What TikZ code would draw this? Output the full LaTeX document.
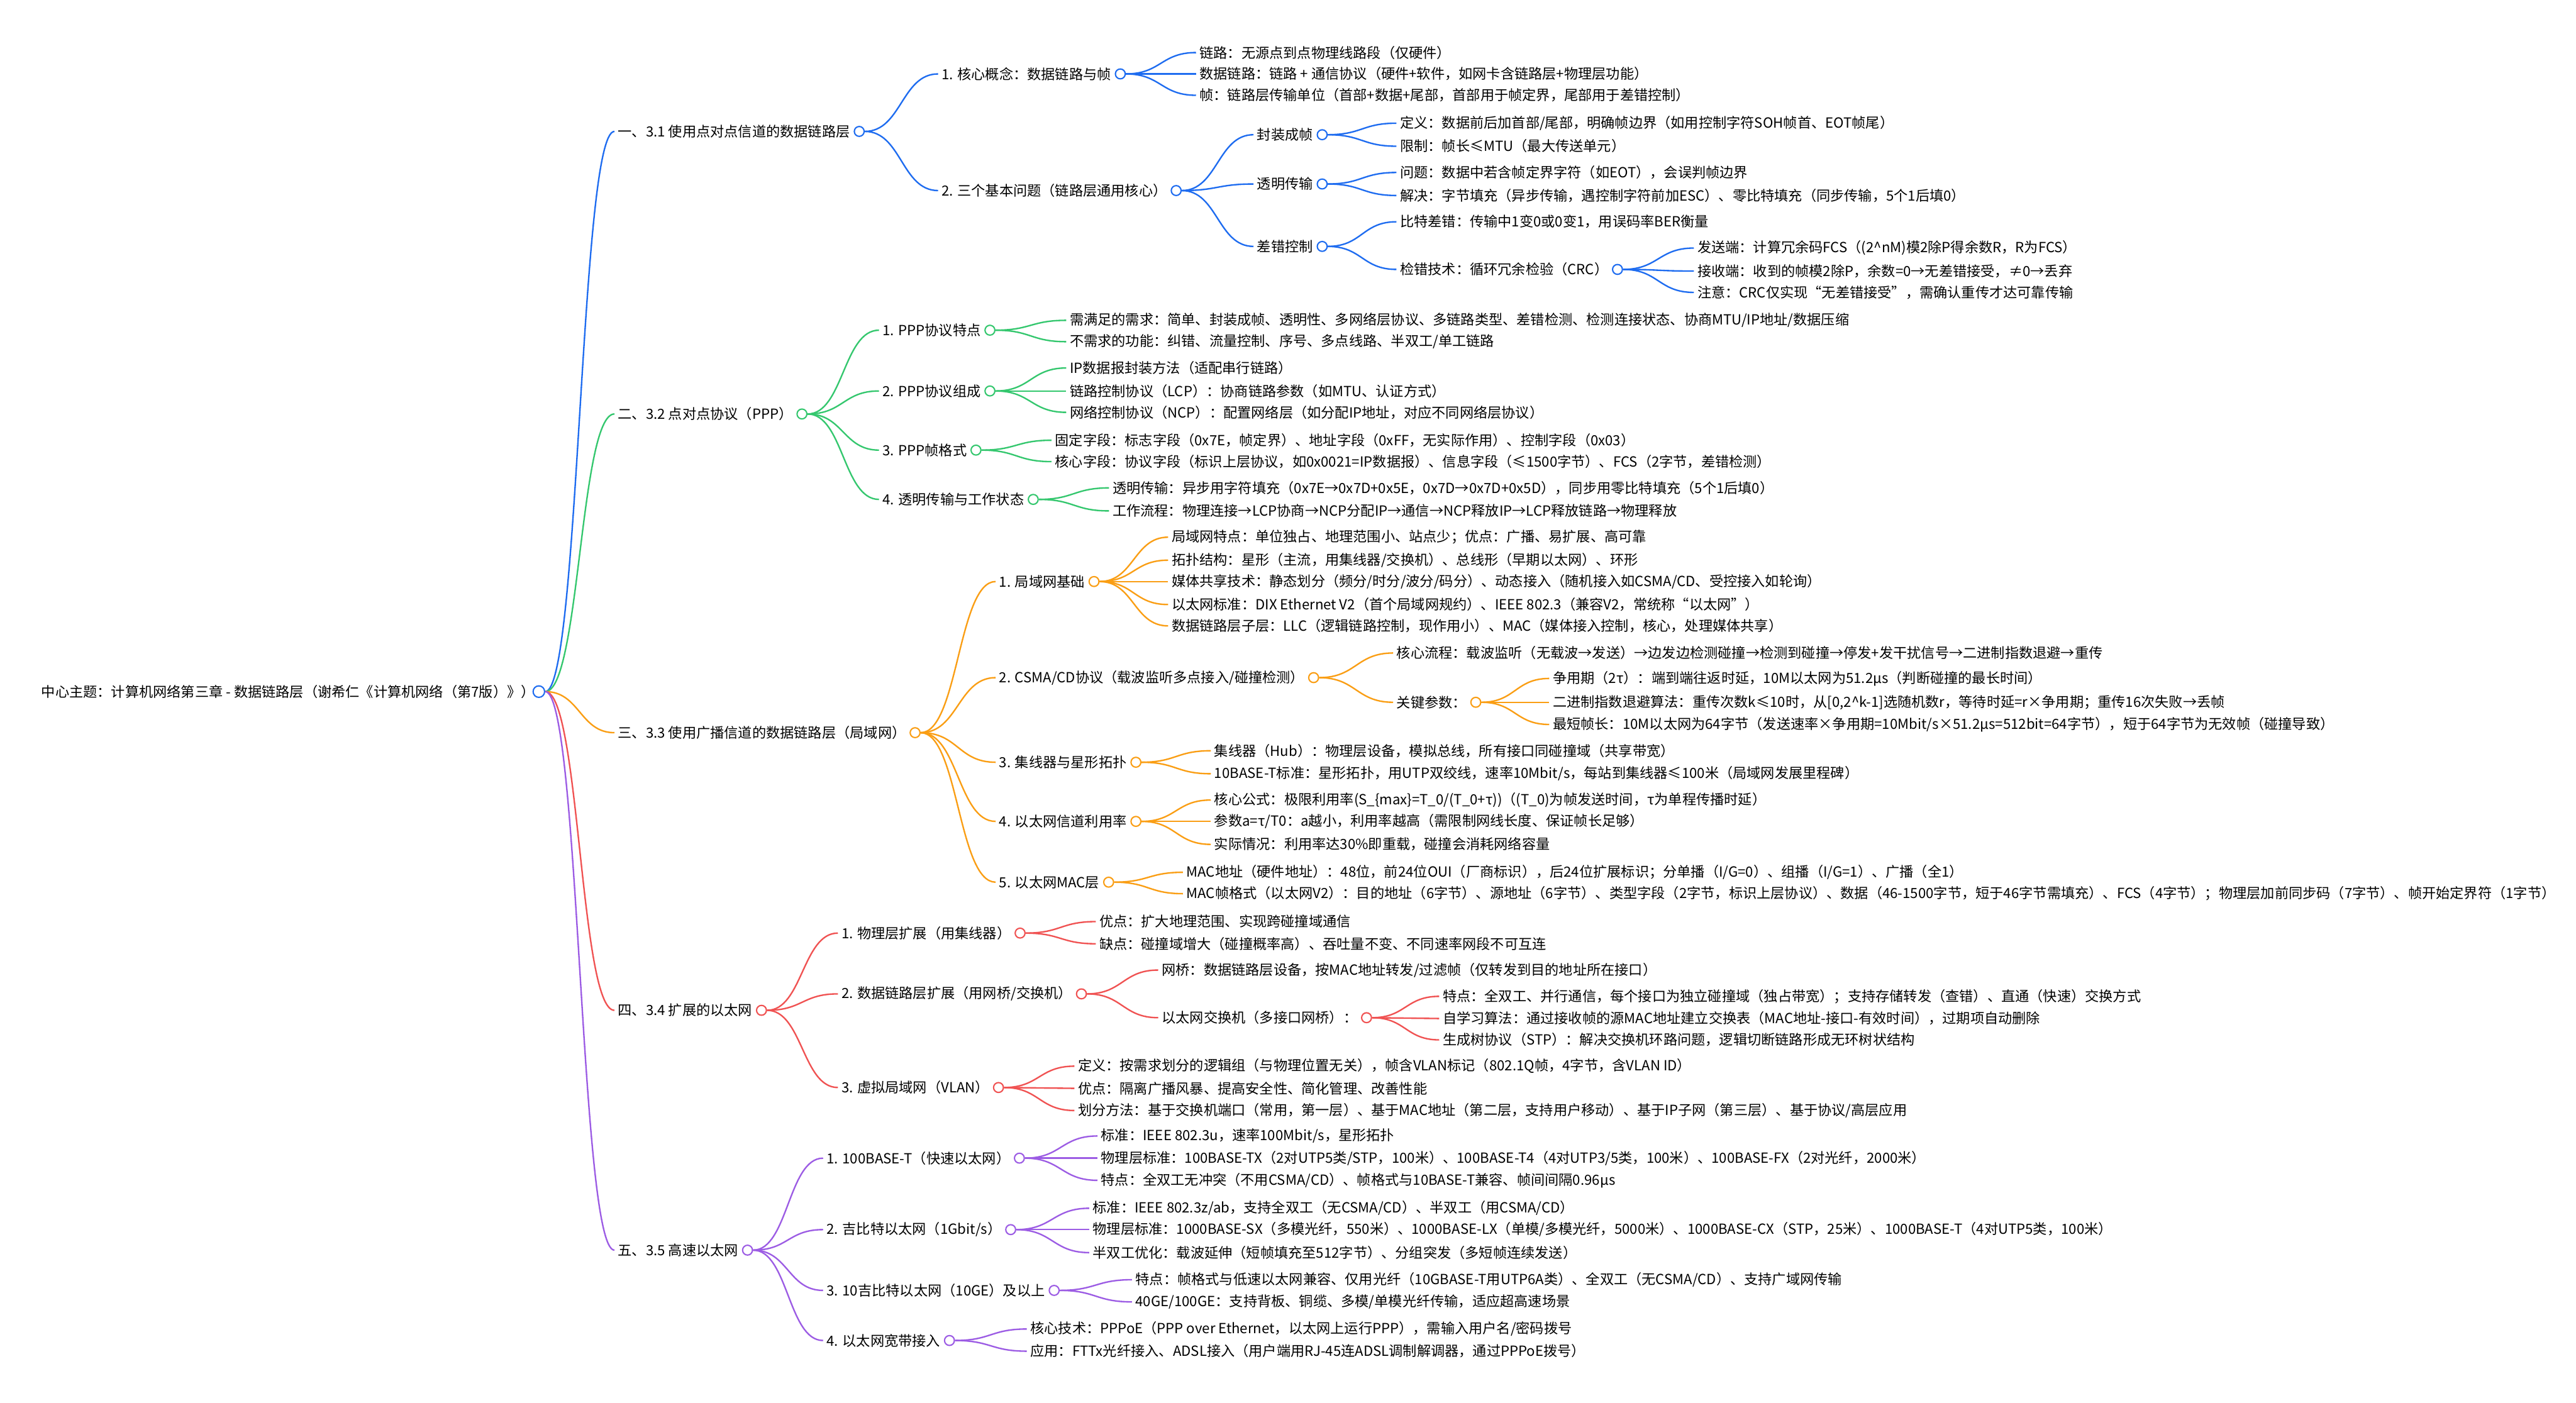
\documentclass[tikz,border=0pt]{standalone}
\usepackage{fontspec}
\setmainfont{Noto Sans CJK SC}
\usetikzlibrary{calc}
\definecolor{cA}{RGB}{30,108,240}
\definecolor{cB}{RGB}{52,199,110}
\definecolor{cC}{RGB}{250,158,20}
\definecolor{cD}{RGB}{240,82,82}
\definecolor{cE}{RGB}{156,92,228}
\tikzset{
  mmtext/.style={anchor=west, inner sep=0pt, font=\fontsize{8.5}{10}\selectfont},
  mmdot/.style={circle, fill=white, inner sep=0pt, minimum size=6pt, line width=0.8pt},
  mmlink/.style={line width=0.9pt},
}
% connector: colour, from circle, to text node
\newcommand\mmconn[3]{\draw[mmlink,draw=#1] let \p1=(#2.east), \p2=($(#3.west)+(-2pt,0)$) in
  (\p1) .. controls ({0.5*\x1+0.5*\x2},\y1) and ({0.5*\x1+0.5*\x2},\y2) .. (\p2);}
% leaf: colour, parent circle, name, position, text
\newcommand\mmkid[5]{\node[mmtext] (#3) at (#4) {#5};\mmconn{#1}{#2}{#3}}
% inner node with circle (named #3o)
\newcommand\mmpar[5]{\node[mmtext] (#3) at (#4) {#5};
  \node[mmdot,draw=#1,anchor=west] (#3o) at ($(#3.east)+(2pt,0)$) {};
  \mmconn{#1}{#2}{#3}}
\begin{document}
\begin{tikzpicture}[x=1pt,y=-1pt]
\useasboundingbox[fill=white] (0,0) rectangle (1568,854);
% root
\node[mmtext] (r) at (25,421) {中心主题：计算机网络第三章 - 数据链路层（谢希仁《计算机网络（第7版）》）};
\node[mmdot,draw=cA,minimum size=7pt] (ro) at (328,421) {};

% ---------- section 1 ----------
\mmpar{cA}{ro}{s1}{376,80}{一、3.1 使用点对点信道的数据链路层}
\mmpar{cA}{s1o}{s1a}{573,45}{1. 核心概念：数据链路与帧}
\mmkid{cA}{s1ao}{s1a1}{730,32}{链路：无源点到点物理线路段（仅硬件）}
\mmkid{cA}{s1ao}{s1a2}{730,45}{数据链路：链路 + 通信协议（硬件+软件，如网卡含链路层+物理层功能）}
\mmkid{cA}{s1ao}{s1a3}{730,58}{帧：链路层传输单位（首部+数据+尾部，首部用于帧定界，尾部用于差错控制）}
\mmpar{cA}{s1o}{s1b}{573,116}{2. 三个基本问题（链路层通用核心）}
\mmpar{cA}{s1bo}{s1b1}{765,82}{封装成帧}
\mmkid{cA}{s1b1o}{s1b11}{852,75}{定义：数据前后加首部/尾部，明确帧边界（如用控制字符SOH帧首、EOT帧尾）}
\mmkid{cA}{s1b1o}{s1b12}{852,89}{限制：帧长≤MTU（最大传送单元）}
\mmpar{cA}{s1bo}{s1b2}{765,112}{透明传输}
\mmkid{cA}{s1b2o}{s1b21}{852,105}{问题：数据中若含帧定界字符（如EOT），会误判帧边界}
\mmkid{cA}{s1b2o}{s1b22}{852,119}{解决：字节填充（异步传输，遇控制字符前加ESC）、零比特填充（同步传输，5个1后填0）}
\mmpar{cA}{s1bo}{s1b3}{765,150}{差错控制}
\mmkid{cA}{s1b3o}{s1b31}{852,135}{比特差错：传输中1变0或0变1，用误码率BER衡量}
\mmpar{cA}{s1b3o}{s1b32}{852,164}{检错技术：循环冗余检验（CRC）}
\mmkid{cA}{s1b32o}{s1b321}{1033,151}{发送端：计算冗余码FCS（(2\textasciicircum nM)模2除P得余数R，R为FCS）}
\mmkid{cA}{s1b32o}{s1b322}{1033,165}{接收端：收到的帧模2除P，余数=0→无差错接受，≠0→丢弃}
\mmkid{cA}{s1b32o}{s1b323}{1033,178}{注意：CRC仅实现“无差错接受”，需确认重传才达可靠传输}

% ---------- section 2 ----------
\mmpar{cB}{ro}{s2}{376,252}{二、3.2 点对点协议（PPP）}
\mmpar{cB}{s2o}{s2a}{537,201}{1. PPP协议特点}
\mmkid{cB}{s2ao}{s2a1}{651,195}{需满足的需求：简单、封装成帧、透明性、多网络层协议、多链路类型、差错检测、检测连接状态、协商MTU/IP地址/数据压缩}
\mmkid{cB}{s2ao}{s2a2}{651,208}{不需求的功能：纠错、流量控制、序号、多点线路、半双工/单工链路}
\mmpar{cB}{s2o}{s2b}{537,238}{2. PPP协议组成}
\mmkid{cB}{s2bo}{s2b1}{651,224}{IP数据报封装方法（适配串行链路）}
\mmkid{cB}{s2bo}{s2b2}{651,238}{链路控制协议（LCP）：协商链路参数（如MTU、认证方式）}
\mmkid{cB}{s2bo}{s2b3}{651,251}{网络控制协议（NCP）：配置网络层（如分配IP地址，对应不同网络层协议）}
\mmpar{cB}{s2o}{s2c}{537,274}{3. PPP帧格式}
\mmkid{cB}{s2co}{s2c1}{642,268}{固定字段：标志字段（0x7E，帧定界）、地址字段（0xFF，无实际作用）、控制字段（0x03）}
\mmkid{cB}{s2co}{s2c2}{642,281}{核心字段：协议字段（标识上层协议，如0x0021=IP数据报）、信息字段（≤1500字节）、FCS（2字节，差错检测）}
\mmpar{cB}{s2o}{s2d}{537,304}{4. 透明传输与工作状态}
\mmkid{cB}{s2do}{s2d1}{677,297}{透明传输：异步用字符填充（0x7E→0x7D+0x5E，0x7D→0x7D+0x5D），同步用零比特填充（5个1后填0）}
\mmkid{cB}{s2do}{s2d2}{677,311}{工作流程：物理连接→LCP协商→NCP分配IP→通信→NCP释放IP→LCP释放链路→物理释放}

% ---------- section 3 ----------
\mmpar{cC}{ro}{s3}{376,446}{三、3.3 使用广播信道的数据链路层（局域网）}
\mmpar{cC}{s3o}{s3a}{608,354}{1. 局域网基础}
\mmkid{cC}{s3ao}{s3a1}{713,327}{局域网特点：单位独占、地理范围小、站点少；优点：广播、易扩展、高可靠}
\mmkid{cC}{s3ao}{s3a2}{713,341}{拓扑结构：星形（主流，用集线器/交换机）、总线形（早期以太网）、环形}
\mmkid{cC}{s3ao}{s3a3}{713,354}{媒体共享技术：静态划分（频分/时分/波分/码分）、动态接入（随机接入如CSMA/CD、受控接入如轮询）}
\mmkid{cC}{s3ao}{s3a4}{713,368}{以太网标准：DIX Ethernet V2（首个局域网规约）、IEEE 802.3（兼容V2，常统称“以太网”）}
\mmkid{cC}{s3ao}{s3a5}{713,381}{数据链路层子层：LLC（逻辑链路控制，现作用小）、MAC（媒体接入控制，核心，处理媒体共享）}
\mmpar{cC}{s3o}{s3b}{608,412.5}{2. CSMA/CD协议（载波监听多点接入/碰撞检测）}
\mmkid{cC}{s3bo}{s3b1}{850,397.5}{核心流程：载波监听（无载波→发送）→边发边检测碰撞→检测到碰撞→停发+发干扰信号→二进制指数退避→重传}
\mmpar{cC}{s3bo}{s3b2}{850,427.5}{关键参数：}
\mmkid{cC}{s3b2o}{s3b21}{945,413}{争用期（2τ）：端到端往返时延，10M以太网为51.2μs（判断碰撞的最长时间）}
\mmkid{cC}{s3b2o}{s3b22}{945,427.5}{二进制指数退避算法：重传次数k≤10时，从[0,2\textasciicircum k-1]选随机数r，等待时延=r×争用期；重传16次失败→丢帧}
\mmkid{cC}{s3b2o}{s3b23}{945,441}{最短帧长：10M以太网为64字节（发送速率×争用期=10Mbit/s×51.2μs=512bit=64字节），短于64字节为无效帧（碰撞导致）}
\mmpar{cC}{s3o}{s3c}{608,464}{3. 集线器与星形拓扑}
\mmkid{cC}{s3co}{s3c1}{739,457}{集线器（Hub）：物理层设备，模拟总线，所有接口同碰撞域（共享带宽）}
\mmkid{cC}{s3co}{s3c2}{739,471}{10BASE-T标准：星形拓扑，用UTP双绞线，速率10Mbit/s，每站到集线器≤100米（局域网发展里程碑）}
\mmpar{cC}{s3o}{s3d}{608,500}{4. 以太网信道利用率}
\mmkid{cC}{s3do}{s3d1}{739,487}{核心公式：极限利用率(S\_\{max\}=T\_0/(T\_0+τ))（(T\_0)为帧发送时间，τ为单程传播时延）}
\mmkid{cC}{s3do}{s3d2}{739,500}{参数a=τ/T0：a越小，利用率越高（需限制网线长度、保证帧长足够）}
\mmkid{cC}{s3do}{s3d3}{739,514}{实际情况：利用率达30\%即重载，碰撞会消耗网络容量}
\mmpar{cC}{s3o}{s3e}{608,537}{5. 以太网MAC层}
\mmkid{cC}{s3eo}{s3e1}{722,531}{MAC地址（硬件地址）：48位，前24位OUI（厂商标识），后24位扩展标识；分单播（I/G=0）、组播（I/G=1）、广播（全1）}
\mmkid{cC}{s3eo}{s3e2}{722,544}{MAC帧格式（以太网V2）：目的地址（6字节）、源地址（6字节）、类型字段（2字节，标识上层协议）、数据（46-1500字节，短于46字节需填充）、FCS（4字节）；物理层加前同步码（7字节）、帧开始定界符（1字节）}

% ---------- section 4 ----------
\mmpar{cD}{ro}{s4}{376,615}{四、3.4 扩展的以太网}
\mmpar{cD}{s4o}{s4a}{512,568}{1. 物理层扩展（用集线器）}
\mmkid{cD}{s4ao}{s4a1}{669,561}{优点：扩大地理范围、实现跨碰撞域通信}
\mmkid{cD}{s4ao}{s4a2}{669,574.5}{缺点：碰撞域增大（碰撞概率高）、吞吐量不变、不同速率网段不可互连}
\mmpar{cD}{s4o}{s4b}{512,605}{2. 数据链路层扩展（用网桥/交换机）}
\mmkid{cD}{s4bo}{s4b1}{707,590.5}{网桥：数据链路层设备，按MAC地址转发/过滤帧（仅转发到目的地址所在接口）}
\mmpar{cD}{s4bo}{s4b2}{707,619.5}{以太网交换机（多接口网桥）：}
\mmkid{cD}{s4b2o}{s4b21}{878,606.5}{特点：全双工、并行通信，每个接口为独立碰撞域（独占带宽）；支持存储转发（查错）、直通（快速）交换方式}
\mmkid{cD}{s4b2o}{s4b22}{878,620}{自学习算法：通过接收帧的源MAC地址建立交换表（MAC地址-接口-有效时间），过期项自动删除}
\mmkid{cD}{s4b2o}{s4b23}{878,633}{生成树协议（STP）：解决交换机环路问题，逻辑切断链路形成无环树状结构}
\mmpar{cD}{s4o}{s4c}{512,662}{3. 虚拟局域网（VLAN）}
\mmkid{cD}{s4co}{s4c1}{656,649}{定义：按需求划分的逻辑组（与物理位置无关），帧含VLAN标记（802.1Q帧，4字节，含VLAN ID）}
\mmkid{cD}{s4co}{s4c2}{656,662.5}{优点：隔离广播风暴、提高安全性、简化管理、改善性能}
\mmkid{cD}{s4co}{s4c3}{656,676}{划分方法：基于交换机端口（常用，第一层）、基于MAC地址（第二层，支持用户移动）、基于IP子网（第三层）、基于协议/高层应用}

% ---------- section 5 ----------
\mmpar{cE}{ro}{s5}{376,761}{五、3.5 高速以太网}
\mmpar{cE}{s5o}{s5a}{503,705}{1. 100BASE-T（快速以太网）}
\mmkid{cE}{s5ao}{s5a1}{670,691.5}{标准：IEEE 802.3u，速率100Mbit/s，星形拓扑}
\mmkid{cE}{s5ao}{s5a2}{670,705}{物理层标准：100BASE-TX（2对UTP5类/STP，100米）、100BASE-T4（4对UTP3/5类，100米）、100BASE-FX（2对光纤，2000米）}
\mmkid{cE}{s5ao}{s5a3}{670,718.5}{特点：全双工无冲突（不用CSMA/CD）、帧格式与10BASE-T兼容、帧间间隔0.96μs}
\mmpar{cE}{s5o}{s5b}{503,748.5}{2. 吉比特以太网（1Gbit/s）}
\mmkid{cE}{s5bo}{s5b1}{665,735.5}{标准：IEEE 802.3z/ab，支持全双工（无CSMA/CD）、半双工（用CSMA/CD）}
\mmkid{cE}{s5bo}{s5b2}{665,748.5}{物理层标准：1000BASE-SX（多模光纤，550米）、1000BASE-LX（单模/多模光纤，5000米）、1000BASE-CX（STP，25米）、1000BASE-T（4对UTP5类，100米）}
\mmkid{cE}{s5bo}{s5b3}{665,762.5}{半双工优化：载波延伸（短帧填充至512字节）、分组突发（多短帧连续发送）}
\mmpar{cE}{s5o}{s5c}{503,785.5}{3. 10吉比特以太网（10GE）及以上}
\mmkid{cE}{s5co}{s5c1}{691,779}{特点：帧格式与低速以太网兼容、仅用光纤（10GBASE-T用UTP6A类）、全双工（无CSMA/CD）、支持广域网传输}
\mmkid{cE}{s5co}{s5c2}{691,792.5}{40GE/100GE：支持背板、铜缆、多模/单模光纤传输，适应超高速场景}
\mmpar{cE}{s5o}{s5d}{503,816}{4. 以太网宽带接入}
\mmkid{cE}{s5do}{s5d1}{627,809}{核心技术：PPPoE（PPP over Ethernet，以太网上运行PPP），需输入用户名/密码拨号}
\mmkid{cE}{s5do}{s5d2}{627,822.5}{应用：FTTx光纤接入、ADSL接入（用户端用RJ-45连ADSL调制解调器，通过PPPoE拨号）}
\end{tikzpicture}
\end{document}
